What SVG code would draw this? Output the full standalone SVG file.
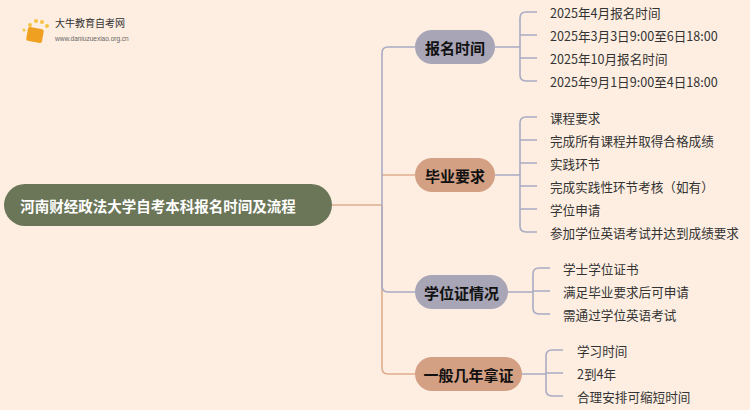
<svg xmlns="http://www.w3.org/2000/svg" width="750" height="410" viewBox="0 0 750 410">
<style>
.t{font-family:"Noto Sans CJK SC","Noto Sans",sans-serif;font-size:12.6px;fill:#333;dominant-baseline:central}
.n{font-family:"Noto Sans CJK SC",sans-serif;font-size:15px;font-weight:bold;fill:#111;text-anchor:middle;dominant-baseline:central}
.g{fill:none;stroke:#a9abc4;stroke-width:1.6}
.o{fill:none;stroke:#dfae90;stroke-width:1.6}
</style>
<rect width="750" height="410" fill="#fdeee1"/>
<g id="logo">
<circle cx="30" cy="25" r="2" fill="#f5c542"/><circle cx="36" cy="21" r="2" fill="#f5c542"/><circle cx="42" cy="22" r="2" fill="#f5c542"/><circle cx="47" cy="26" r="2" fill="#f5c542"/><circle cx="24" cy="30" r="1.5" fill="#f5c542"/>
<rect x="27" y="28" width="16" height="14" rx="2" fill="#f0a020" transform="rotate(10 35 35)"/>
<text x="55" y="27" style="font-family:'Noto Sans CJK SC',sans-serif;font-size:10px;fill:#333">大牛教育自考网</text>
<text x="55" y="41" style="font-family:'Liberation Sans',sans-serif;font-size:6.5px;fill:#666">www.daniuzuexiao.org.cn</text>
</g>
<g id="connectors">
<path class="o" d="M332 205 H382 M382 205 V368 Q382 374 388 374 H415 M382 175 H415"/>
<path class="g" d="M382 205 V53 Q382 47 388 47 H415 M382 205 V286 Q382 292 388 292 H415"/>
<path class="g" d="M495 47 H520 M520 18 Q520 12 526 12 H537 M520 35 H537 M520 58 H537 M520 75 Q520 81 526 81 H537 M520 18 V75"/>
<path class="g" d="M495 175 H520 M520 123 Q520 117 526 117 H537 M520 140 H537 M520 163 H537 M520 186 H537 M520 209 H537 M520 226 Q520 232 526 232 H537 M520 123 V226"/>
<path class="g" d="M508 292 H533 M533 274 Q533 268 539 268 H550 M533 291 H550 M533 308 Q533 314 539 314 H550 M533 274 V308"/>
<path class="g" d="M522 374 H546 M546 356 Q546 350 552 350 H563 M546 373 H563 M546 390 Q546 396 552 396 H563 M546 356 V390"/>
</g>
<g id="root"><rect x="4" y="184" width="328" height="42" rx="21" fill="#6b7558"/><text class="n" x="158" y="205" style="fill:#fff;font-size:14.5px">河南财经政法大学自考本科报名时间及流程</text></g>
<g id="n1"><rect x="415" y="30" width="80" height="34" rx="17" fill="#a7a5b6"/><text class="n" x="455" y="47">报名时间</text></g>
<g id="n2"><rect x="415" y="158" width="80" height="34" rx="17" fill="#d3a084"/><text class="n" x="455" y="175">毕业要求</text></g>
<g id="n3"><rect x="415" y="275" width="93" height="34" rx="17" fill="#a7a5b6"/><text class="n" x="461.5" y="292">学位证情况</text></g>
<g id="n4"><rect x="415" y="357" width="107" height="34" rx="17" fill="#d3a084"/><text class="n" x="468.5" y="374">一般几年拿证</text></g>
<g id="leaves">
<text class="t" x="550" y="12">2025年4月报名时间</text>
<text class="t" x="550" y="35">2025年3月3日9:00至6日18:00</text>
<text class="t" x="550" y="58">2025年10月报名时间</text>
<text class="t" x="550" y="81">2025年9月1日9:00至4日18:00</text>
<text class="t" x="550" y="117">课程要求</text>
<text class="t" x="550" y="140">完成所有课程并取得合格成绩</text>
<text class="t" x="550" y="163">实践环节</text>
<text class="t" x="550" y="186">完成实践性环节考核（如有）</text>
<text class="t" x="550" y="209">学位申请</text>
<text class="t" x="550" y="232">参加学位英语考试并达到成绩要求</text>
<text class="t" x="563" y="268">学士学位证书</text>
<text class="t" x="563" y="291">满足毕业要求后可申请</text>
<text class="t" x="563" y="314">需通过学位英语考试</text>
<text class="t" x="577" y="350">学习时间</text>
<text class="t" x="577" y="373">2到4年</text>
<text class="t" x="577" y="396">合理安排可缩短时间</text>
</g>
</svg>
